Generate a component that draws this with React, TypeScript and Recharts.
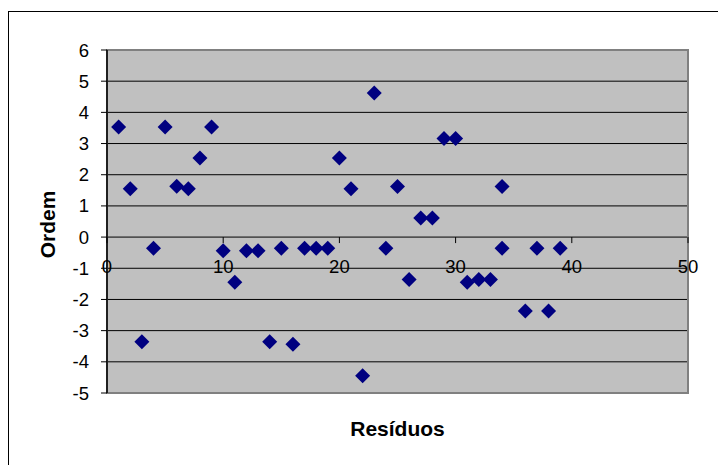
import { ScatterChart, Scatter, XAxis, YAxis, CartesianGrid, ReferenceArea, ReferenceDot, Label } from "recharts";

// ordem da observação (eixo horizontal) e resíduo (eixo vertical)
const ordem = [
  1, 2, 3, 4, 5, 6, 7, 8, 9, 10, 11, 12, 13, 14, 15, 16, 17, 18, 19, 20,
  21, 22, 23, 24, 25, 26, 27, 28, 29, 30, 31, 32, 33, 34, 34, 36, 37, 38, 39,
];
const residuos = [
  3.53, 1.55, -3.36, -0.36, 3.53, 1.63, 1.55, 2.54, 3.53, -0.44, -1.45, -0.44, -0.44, -3.36, -0.36, -3.44, -0.36,
  -0.36, -0.36, 2.54, 1.55, -4.45, 4.62, -0.36, 1.62, -1.36, 0.61, 0.61, 3.16, 3.16, -1.45, -1.36, -1.36, 1.62,
  -0.36, -2.37, -0.36, -2.37, -0.36,
];
const xTicks = [0, 10, 20, 30, 40, 50];
const yTicks = [-5, -4, -3, -2, -1, 0, 1, 2, 3, 4, 5, 6];

const data = ordem.map((x, i) => ({ x, y: residuos[i] }));

const FONT = '"Liberation Sans", Arial, sans-serif';

const Diamond = (props: any) => {
  const { cx, cy } = props;
  const r = 7.5;
  return (
    <polygon
      points={`${cx},${cy - r} ${cx + r},${cy} ${cx},${cy + r} ${cx - r},${cy}`}
      fill="#000080"
    />
  );
};

export default function App() {
  return (
    <div
      style={{
        position: "fixed",
        left: 0,
        top: 0,
        width: 718,
        height: 465,
        overflow: "hidden",
        background: "#fff",
        fontFamily: FONT,
      }}
    >
      <div
        style={{
          position: "absolute",
          left: 8,
          top: 11,
          width: 760,
          height: 500,
          border: "1px solid #000",
        }}
      />
      <div style={{ position: "absolute", left: 0, top: 0 }}>
        <ScatterChart
          width={718}
          height={465}
          margin={{ top: 50, right: 30, bottom: 0, left: 17 }}
          style={{ fontFamily: FONT }}
        >
          <CartesianGrid horizontal vertical={false} stroke="#000" fill="#C0C0C0" fillOpacity={1} />
          <XAxis
            type="number"
            dataKey="x"
            domain={[0, 50]}
            ticks={xTicks}
            tick={false}
            tickLine={false}
            axisLine={false}
            height={72}
          >
            <Label
              value="Resíduos"
              position="insideBottom"
              offset={29}
              style={{ fontSize: 21, fontWeight: "bold", fill: "#000", fontFamily: FONT }}
            />
          </XAxis>
          <YAxis
            type="number"
            dataKey="y"
            domain={[-5, 6]}
            ticks={yTicks}
            interval={0}
            width={90}
            tickSize={6}
            tickMargin={12}
            tick={{ fontSize: 18.5, fill: "#000", fontFamily: FONT }}
            tickLine={{ stroke: "#000" }}
            axisLine={{ stroke: "#000", strokeWidth: 1.5 }}
          >
            <Label
              content={({ viewBox }: any) => {
                const lx = viewBox.x + 30;
                const ly = viewBox.y + viewBox.height / 2 + 3;
                return (
                  <text
                    x={lx}
                    y={ly}
                    transform={`rotate(-90 ${lx} ${ly})`}
                    textAnchor="middle"
                    dominantBaseline="central"
                    fontSize={21}
                    fontWeight="bold"
                    fill="#000"
                    fontFamily={FONT}
                  >
                    Ordem
                  </text>
                );
              }}
            />
          </YAxis>
          <ReferenceArea x1={0} x2={50} y1={-5} y2={6} fill="none" stroke="#808080" strokeWidth={2} />
          {xTicks.map((t) => (
            <ReferenceDot
              key={t}
              x={t}
              y={0}
              r={0}
              shape={(p: any) => (
                <g>
                  <line x1={p.cx} y1={p.cy} x2={p.cx} y2={p.cy + 6} stroke="#000" />
                  <text x={p.cx} y={p.cy + 36} textAnchor="middle" fontSize={18.5} fill="#000" fontFamily={FONT}>
                    {t}
                  </text>
                </g>
              )}
            />
          ))}
          <Scatter data={data} shape={Diamond} isAnimationActive={false} />
        </ScatterChart>
      </div>
    </div>
  );
}
